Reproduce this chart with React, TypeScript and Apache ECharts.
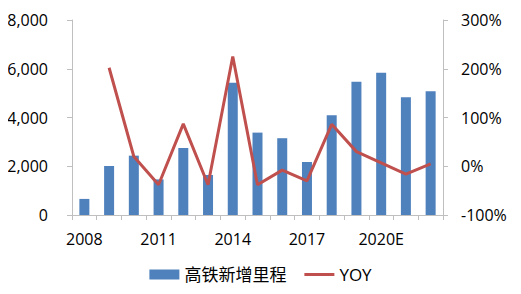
import React, { useEffect, useRef } from "react";
import * as echarts from "echarts";

const categories = ["2008", "2009", "2010", "2011", "2012", "2013", "2014", "2015", "2016", "2017", "2018", "2019", "2020E", "2021E", "2022E"];
const mileage = [660, 2010, 2435, 1460, 2750, 1640, 5430, 3380, 3150, 2175, 4090, 5470, 5840, 4830, 5075];
const yoy = [null, 202, 20, -38, 87, -38, 225, -38, -8, -30, 86, 30, 7, -16, 5];

const FONT = "'Open Sans', 'Noto Sans CJK SC', sans-serif";

export default function App() {
  const ref = useRef<HTMLDivElement>(null);
  useEffect(() => {
    if (!ref.current) return;
    const chart = echarts.init(ref.current, undefined, { renderer: "svg" });
    chart.setOption({
      animation: false,
      textStyle: { fontFamily: FONT },
      grid: { left: 72, right: 78, top: 20, bottom: 79 },
      legend: {
        bottom: 6,
        left: "center",
        itemWidth: 30,
        itemHeight: 10,
        itemGap: 18,
        textStyle: { fontSize: 17, color: "#000", fontFamily: FONT },
        data: [
          { name: "高铁新增里程", icon: "rect" },
          { name: "YOY", icon: "path://M0,0 L30,0 L30,3 L0,3 Z" },
        ],
      },
      xAxis: {
        type: "category",
        data: categories,
        axisLine: { lineStyle: { color: "#BFBFBF" } },
        axisTick: { show: true, interval: 0, length: 5, lineStyle: { color: "#BFBFBF" } },
        axisLabel: { interval: 2, fontSize: 16, color: "#000", margin: 16 },
      },
      yAxis: [
        {
          type: "value",
          min: 0,
          max: 8000,
          interval: 2000,
          axisLine: { show: true, lineStyle: { color: "#BFBFBF" } },
          axisTick: { show: true, length: 5, lineStyle: { color: "#BFBFBF" } },
          splitLine: { show: false },
          axisLabel: {
            fontSize: 16,
            color: "#000",
            margin: 24,
            formatter: (v: number) => v.toLocaleString("en-US"),
          },
        },
        {
          type: "value",
          min: -100,
          max: 300,
          interval: 100,
          axisLine: { show: true, lineStyle: { color: "#BFBFBF" } },
          axisTick: { show: true, length: 5, lineStyle: { color: "#BFBFBF" } },
          splitLine: { show: false },
          axisLabel: { fontSize: 16, color: "#000", margin: 18, formatter: "{value}%" },
        },
      ],
      series: [
        {
          name: "高铁新增里程",
          type: "bar",
          data: mileage,
          barWidth: 10,
          itemStyle: { color: "#4F81BD" },
        },
        {
          name: "YOY",
          type: "line",
          yAxisIndex: 1,
          data: yoy,
          symbol: "none",
          lineStyle: { color: "#C0504D", width: 3 },
          itemStyle: { color: "#C0504D" },
        },
      ],
    });
    return () => chart.dispose();
  }, []);
  return <div ref={ref} style={{ width: 521, height: 294, margin: -8 }} />;
}
